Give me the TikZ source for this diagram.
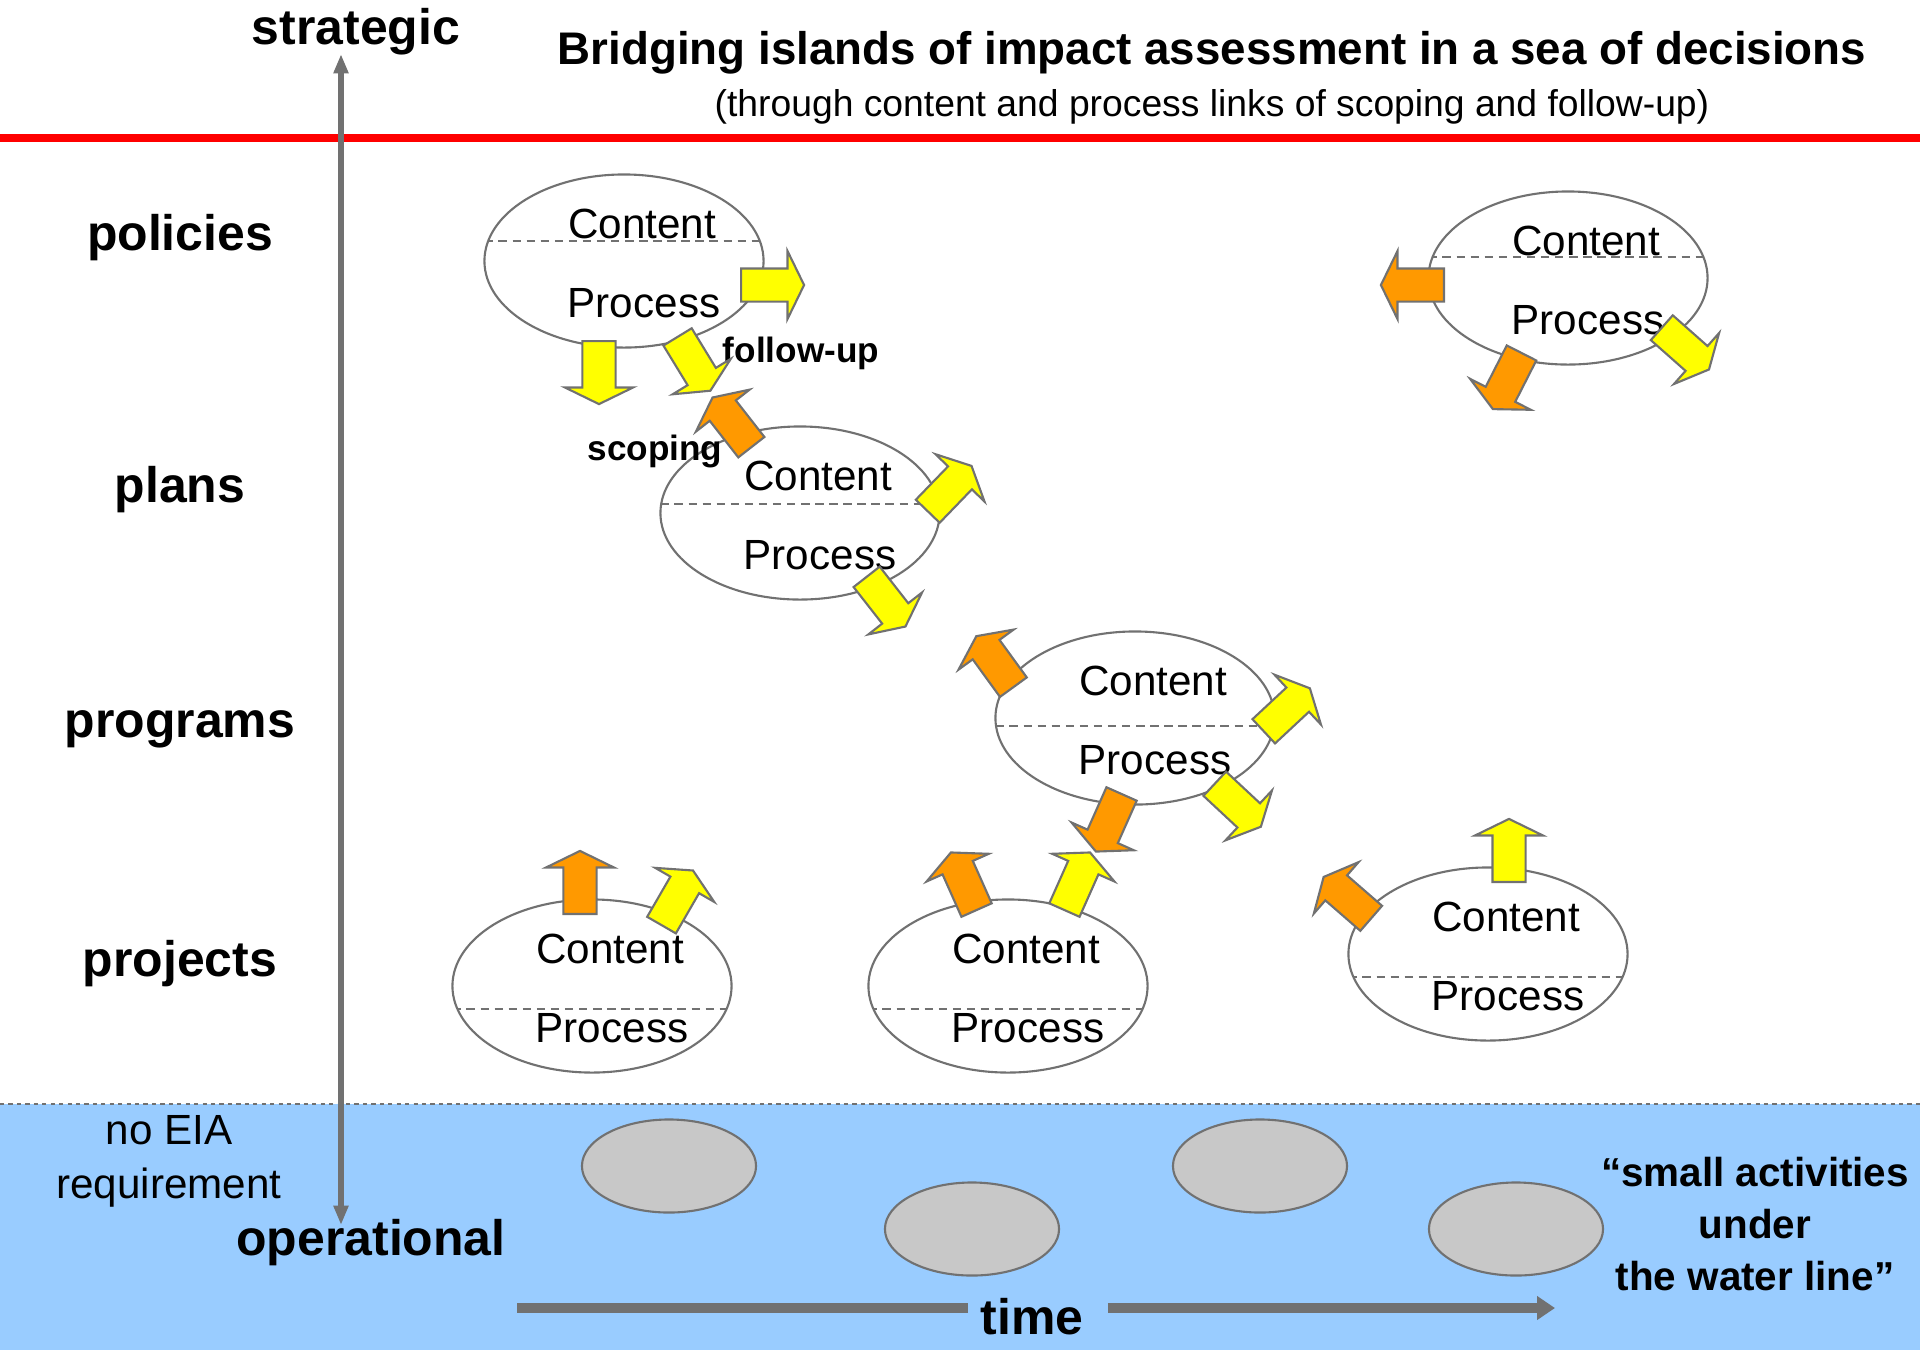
\documentclass[tikz,border=0pt]{standalone}
\usepackage{fontspec}
\setmainfont{Liberation Sans}
\usepackage{tikz}
\usetikzlibrary{arrows.meta}
\usetikzlibrary{calc}
\usetikzlibrary{positioning}
\usetikzlibrary{shapes.geometric}
\usetikzlibrary{shapes.arrows}

\definecolor{seablue}{HTML}{99CCFF}
\definecolor{rockgray}{HTML}{C8C8C8}
\definecolor{linegray}{HTML}{717171}
\definecolor{fuyellow}{HTML}{FFFF00}
\definecolor{scorange}{HTML}{FF9900}

\begin{document}
\begin{tikzpicture}[x=0.01cm, y=-0.01cm,
		island/.style={ellipse, draw=linegray, line width=0.6pt, fill=white, minimum width=2.79cm, minimum height=1.73cm, inner sep=0pt,
			path picture={\draw[linegray, line width=0.45pt, dash pattern=on 2.4pt off 1.6pt] ($(path picture bounding box.west)+(0,#1)$) -- ($(path picture bounding box.east)+(0,#1)$);}},
		rock/.style={ellipse, draw=linegray, line width=0.6pt, fill=rockgray, minimum width=1.74cm, minimum height=0.93cm, inner sep=0pt},
		blockarr/.style={single arrow, draw=linegray, line width=0.6pt, inner xsep=0pt, inner ysep=0.155cm, minimum height=0.63cm, single arrow head extend=0.175cm, single arrow tip angle=128, anchor=tail},
		fuarr/.style={blockarr, fill=fuyellow},
		scarr/.style={blockarr, fill=scorange},
		level/.style={font=\fontsize{14.2pt}{17pt}\selectfont\bfseries},
		cpword/.style={font=\fontsize{12pt}{14pt}\selectfont, inner sep=0pt},
		linkword/.style={font=\fontsize{10pt}{12pt}\selectfont\bfseries}]
		\useasboundingbox (0,0) rectangle (1920,1350);

		\fill[seablue] (0,1104) rectangle (1920,1350);
		\draw[linegray, line width=0.6pt, dash pattern=on 1.2pt off 1.2pt] (0,1104) -- (1920,1104);
		\draw[red, line width=2.4pt] (0,138) -- (1920,138);

		\node[font=\fontsize{13pt}{15pt}\selectfont\bfseries] (title) at (1212,53) {Bridging islands of impact assessment in a sea of decisions};
		\node[font=\fontsize{10.6pt}{13pt}\selectfont] (subtitle) at (1212,107) {(through content and process links of scoping and follow-up)};

		\node[level] (strat) at (356,32) {strategic};
		\node[level] (oper) at (371,1243) {operational};
		\node[level] (policies) at (180,238) {policies};
		\node[level] (plans) at (180,490) {plans};
		\node[level] (programs) at (180,729) {programs};
		\node[level] (projects) at (180,964) {projects};

		\coordinate (axtop) at (341,54);
		\coordinate (axbot) at (341,1225);
		\draw[linegray, line width=1.45pt, {Triangle[length=5.5pt,width=4pt]}-{Triangle[length=5.5pt,width=4pt]}] (axbot) -- (axtop);

		\node[level] (time) at (1032,1317) {time};
		\coordinate (tstart) at (517,1308);
		\coordinate (tend) at (1555,1308);
		\draw[linegray, line width=2.7pt] (tstart) -- (time.west |- tstart);
		\draw[linegray, line width=2.7pt, -{Triangle[length=5.1pt,width=6.5pt]}] ([xshift=0.12cm]time.east |- tstart) -- (tend);

		\node[font=\fontsize{12pt}{15.4pt}\selectfont, align=center] (noeia) at (169,1161) {no EIA\\requirement};
		\node[font=\fontsize{11.5pt}{14.8pt}\selectfont\bfseries, align=center] (small) at (1755,1224) {“small activities\\under\\the water line”};

		\node[rock] (rock1) at (669,1166) {};
		\node[rock] (rock2) at (972,1229) {};
		\node[rock] (rock3) at (1260,1166) {};
		\node[rock] (rock4) at (1516,1229) {};

		\node[island=-20] (pol) at (624,261) {};
		\node[cpword] (pol-c) at ($(pol)+(18,-37)$) {Content};
		\node[cpword] (pol-p) at ($(pol)+(20,42)$) {Process};
		\node[island=-21] (pol2) at (1568,278) {};
		\node[cpword] (pol2-c) at ($(pol2)+(18,-37)$) {Content};
		\node[cpword] (pol2-p) at ($(pol2)+(20,42)$) {Process};
		\node[island=-9] (pla) at (800,513) {};
		\node[cpword] (pla-c) at ($(pla)+(18,-37)$) {Content};
		\node[cpword] (pla-p) at ($(pla)+(20,42)$) {Process};
		\node[island=8] (prg) at (1135,718) {};
		\node[cpword] (prg-c) at ($(prg)+(18,-37)$) {Content};
		\node[cpword] (prg-p) at ($(prg)+(20,42)$) {Process};
		\node[island=23] (prj1) at (592,986) {};
		\node[cpword] (prj1-c) at ($(prj1)+(18,-37)$) {Content};
		\node[cpword] (prj1-p) at ($(prj1)+(20,42)$) {Process};
		\node[island=23] (prj2) at (1008,986) {};
		\node[cpword] (prj2-c) at ($(prj2)+(18,-37)$) {Content};
		\node[cpword] (prj2-p) at ($(prj2)+(20,42)$) {Process};
		\node[island=23] (prj3) at (1488,954) {};
		\node[cpword] (prj3-c) at ($(prj3)+(18,-37)$) {Content};
		\node[cpword] (prj3-p) at ($(prj3)+(20,42)$) {Process};

		\node[linkword] (fulabel) at (801,353) {follow-up};
		\node[linkword] (sclabel) at (655,451) {scoping};

		\node[fuarr, rotate=0] (pol-fw) at (740,285) {};
		\node[fuarr, rotate=-90] (pol-dn) at (599,340) {};
		\node[fuarr, rotate=-58.6] (pol-fu) at (677,336) {};
		\node[scarr, rotate=128] (pla-sc) at (752,448) {};
		\node[scarr, rotate=180] (pol2-bk) at (1445,285) {};
		\node[scarr, rotate=-117] (pol2-dl) at (1522,352) {};
		\node[fuarr, rotate=-41.5] (pol2-dr) at (1661,327) {};
		\node[fuarr, rotate=46] (pla-ur) at (927,512) {};
		\node[fuarr, rotate=-52] (pla-dr) at (866,576) {};
		\node[scarr, rotate=126] (prg-ul) at (1014,688) {};
		\node[fuarr, rotate=43] (prg-ur) at (1263,732) {};
		\node[fuarr, rotate=-43] (prg-dr) at (1214,783) {};
		\node[scarr, rotate=-114] (prg-dl) at (1122,793) {};
		\node[scarr, rotate=90] (prj1-up) at (580,915) {};
		\node[fuarr, rotate=60] (prj1-ur) at (661,926) {};
		\node[scarr, rotate=114] (prj2-ul) at (977,911) {};
		\node[fuarr, rotate=66] (prj2-ur) at (1064,911) {};
		\node[fuarr, rotate=90] (prj3-up) at (1509,883) {};
		\node[scarr, rotate=139] (prj3-ul) at (1372,919) {};
	\end{tikzpicture}
\end{document}
